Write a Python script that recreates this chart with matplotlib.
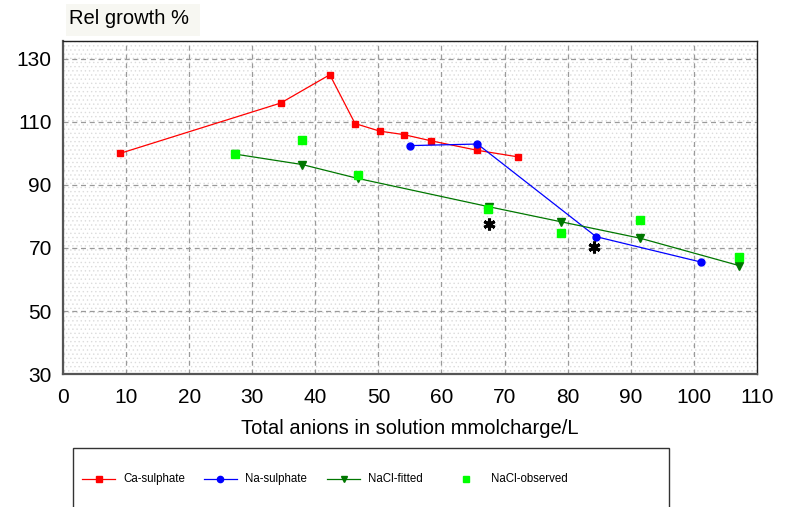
import matplotlib
matplotlib.use('Agg')
import matplotlib.pyplot as plt
from matplotlib.patches import Rectangle
from matplotlib.lines import Line2D
from matplotlib import font_manager

plt.rcParams['font.family'] = ['Liberation Sans', 'DejaVu Sans']

# data
ca_x = [9, 34.5, 42.3, 46.3, 50.2, 54.0, 58.4, 65.7, 72.2]
ca_y = [100, 116, 125, 109.5, 107.1, 106.0, 104.0, 101.0, 98.9]

na_x = [55.0, 65.7, 84.5, 101.2]
na_y = [102.5, 103.0, 73.6, 65.5]

fit_x = [27.3, 37.9, 46.7, 67.5, 79.0, 91.5, 107.2]
fit_y = [99.8, 96.5, 92.1, 83.1, 78.3, 73.1, 64.4]

obs_x = [27.3, 37.9, 46.8, 67.3, 78.9, 91.5, 107.2]
obs_y = [99.8, 104.2, 93.2, 82.3, 74.7, 78.9, 67.0]

star_x = [67.6, 84.2]
star_y = [77.6, 70.4]

xticks = list(range(0, 111, 10))
yticks = list(range(30, 131, 20))

# narrow face for the legend if there is one
names = {f.name for f in font_manager.fontManager.ttflist}
if 'Liberation Sans Narrow' in names:
    leg_font, leg_size = 'Liberation Sans Narrow', 9.5
else:
    leg_font, leg_size = 'Liberation Sans', 8.3

fig = plt.figure(figsize=(7.87, 5.07), dpi=100)
ax = fig.add_axes([0.080, 0.2623, 0.8818, 0.6568])

# dotted background
ax.set_facecolor('white')
plt.rcParams['hatch.linewidth'] = 0.5
bg = Rectangle((0, 0), 1, 1, transform=ax.transAxes, facecolor='white',
               edgecolor='#dcdcdc', hatch='....', linewidth=0, zorder=0)
ax.add_patch(bg)

ax.plot(ca_x, ca_y, color='#ff0000', lw=0.9, marker='s', ms=5, mec='#ff0000', zorder=3)
ax.plot(na_x, na_y, color='#0000ff', lw=0.9, marker='o', ms=5, mec='#0000ff', zorder=3)
ax.plot(fit_x, fit_y, color='#007700', lw=0.9, marker='v', ms=6, mec='#007700', zorder=3)
ax.plot(obs_x, obs_y, ls='none', marker='s', ms=5.5, color='#00ff00', mec='#00ff00', zorder=4)
ax.plot(star_x, star_y, ls='none', marker=(6, 2, 0), ms=8.5, mew=2.2, color='black', zorder=5)

ax.set_xlim(0, 110)
ax.set_ylim(30, 135.7)
ax.set_xticks(xticks)
ax.set_yticks(yticks)
ax.tick_params(length=0, labelsize=15, colors='black')
ax.tick_params(axis='y', pad=8)
ax.tick_params(axis='x', pad=10)
ax.grid(True, color='#9a9a9a', ls=(0, (4, 3)), lw=0.9, zorder=1)
ax.set_axisbelow(True)

for side in ['left', 'bottom']:
    ax.spines[side].set_linewidth(1.6)
    ax.spines[side].set_color('#555555')
for side in ['top', 'right']:
    ax.spines[side].set_linewidth(1.0)
    ax.spines[side].set_color('#222222')

ax.set_xlabel('Total anions in solution mmolcharge/L', fontsize=14.5, labelpad=9)

fig.patches.append(Rectangle((66 / 787, 1 - 36 / 507), 134 / 787, 32 / 507,
                             transform=fig.transFigure, facecolor='#f7f7f2',
                             edgecolor='none'))
fig.text(69 / 787, 1 - 19 / 507, 'Rel growth %', fontsize=14.5, ha='left', va='center')

# legend box, drawn by hand
fig.patches.append(Rectangle((73 / 787, -0.05), 596 / 787, 0.05 + 59 / 507,
                             transform=fig.transFigure, facecolor='white',
                             edgecolor='#333333', linewidth=1.0))
labels = ['Ca-sulphate', 'Na-sulphate', 'NaCl-fitted', 'NaCl-observed']
leg_colors = ['#ff0000', '#0000ff', '#007700', '#00ff00']
leg_markers = ['s', 'o', 'v', 's']
leg_x0 = [82, 204, 327, 449]
leg_lines = [True, True, True, False]
leg_text_x = [123, 245, 368, 491]
ly = 1 - 479 / 507
for lab, c, m, x0, has_line, tx in zip(labels, leg_colors, leg_markers, leg_x0, leg_lines, leg_text_x):
    xs = [x0 / 787, (x0 + 33) / 787]
    if has_line:
        fig.add_artist(Line2D(xs, [ly, ly], color=c, lw=0.9, transform=fig.transFigure))
    fig.add_artist(Line2D([(x0 + 16.5) / 787], [ly], ls='none', marker=m, ms=4.5,
                          color=c, transform=fig.transFigure))
    fig.text(tx / 787, ly, lab, fontsize=leg_size, family=leg_font, ha='left', va='center')

fig.savefig('out.png', dpi=100)
